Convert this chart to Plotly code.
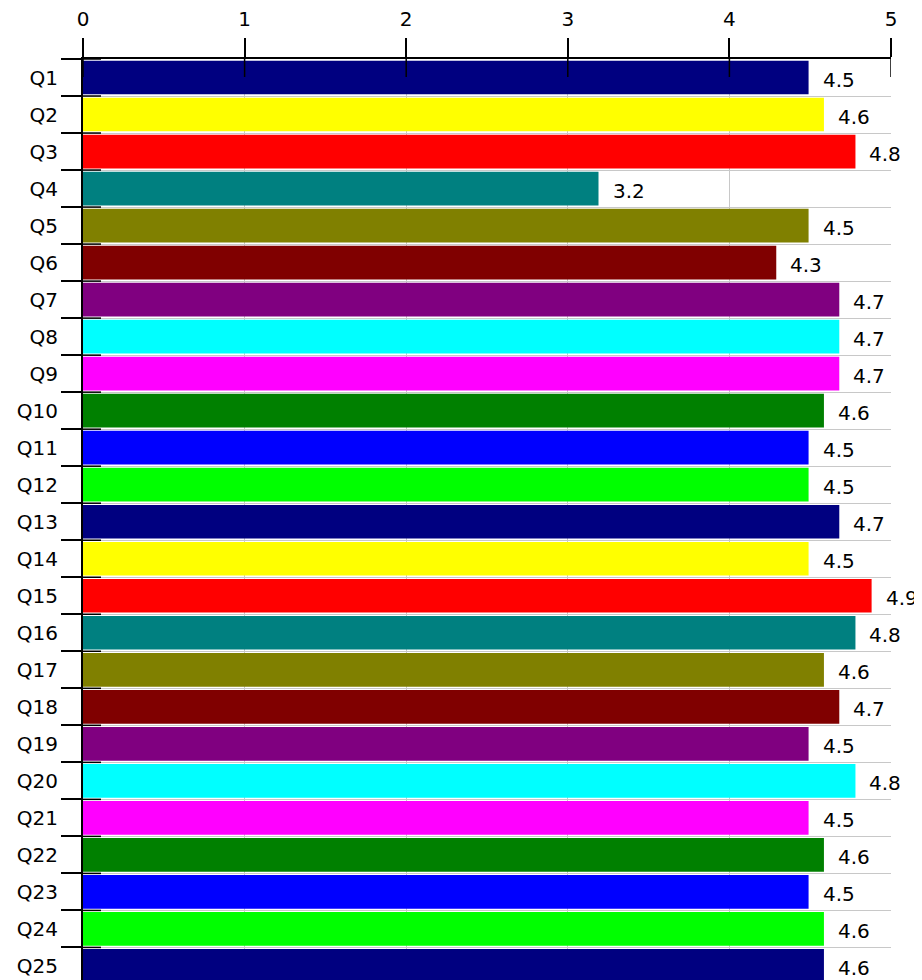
import plotly.graph_objects as go

categories = [f"Q{i}" for i in range(1, 26)]
values = [4.49, 4.585, 4.78, 3.19, 4.49, 4.29, 4.68, 4.68, 4.68, 4.585,
          4.49, 4.49, 4.68, 4.49, 4.88, 4.78, 4.585, 4.68, 4.49, 4.78,
          4.49, 4.585, 4.49, 4.585, 4.585]
palette = ["#000080", "#FFFF00", "#FF0000", "#008080", "#808000", "#800000",
           "#800080", "#00FFFF", "#FF00FF", "#008000", "#0000FF", "#00FF00"]
x_ticks = [0, 1, 2, 3, 4, 5]

colors = [palette[i % len(palette)] for i in range(len(categories))]
FONT = "DejaVu Sans, Arial, sans-serif"

fig = go.Figure(go.Bar(
    x=values, y=categories, orientation="h",
    marker=dict(color=colors, line=dict(width=0)),
    hoverinfo="x+y",
))

annotations = [
    dict(x=v, y=c, xref="x", yref="y", text=f"{v:.1f}", showarrow=False,
         xanchor="left", xshift=12, yshift=-2, bgcolor="white",
         font=dict(family=FONT, size=20, color="black"))
    for v, c in zip(values, categories)
]

shapes = []
for t in x_ticks:
    shapes.append(dict(type="line", xref="x", yref="paper", x0=t, x1=t,
                       ysizemode="pixel", yanchor=1, y0=0, y1=-18,
                       line=dict(color="black", width=1.5), layer="above"))
for i in range(len(categories) + 1):
    b = i - 0.5
    shapes.append(dict(type="line", xref="paper", yref="y", y0=b, y1=b,
                       xsizemode="pixel", xanchor=0, x0=0, x1=18,
                       line=dict(color="black", width=1.5), layer="above"))

fig.update_layout(
    width=914, height=972,
    margin=dict(l=75, r=31, t=51, b=0, autoexpand=False),
    paper_bgcolor="white", plot_bgcolor="white",
    showlegend=False, bargap=0.09,
    font=dict(family=FONT, size=20, color="black"),
    annotations=annotations, shapes=shapes,
    xaxis=dict(side="top", range=[0, 5], tickvals=x_ticks,
               showgrid=True, gridcolor="#c8c8c8", gridwidth=1,
               zeroline=False, showline=True, linecolor="black", linewidth=1.5,
               ticks="outside", ticklen=19, tickwidth=1.5, tickcolor="black",
               ticklabelstandoff=4, automargin=False,
               tickfont=dict(family=FONT, size=20)),
    yaxis=dict(type="category", categoryorder="array", categoryarray=categories,
               range=[24.38, -0.5], tickson="boundaries",
               showgrid=True, gridcolor="#c8c8c8", gridwidth=1,
               zeroline=False, showline=True, linecolor="black", linewidth=2,
               ticks="outside", ticklen=20, tickwidth=1.5, tickcolor="black",
               ticklabelstandoff=19, automargin=False,
               tickfont=dict(family=FONT, size=20)),
)

fig.write_html("out.html")
